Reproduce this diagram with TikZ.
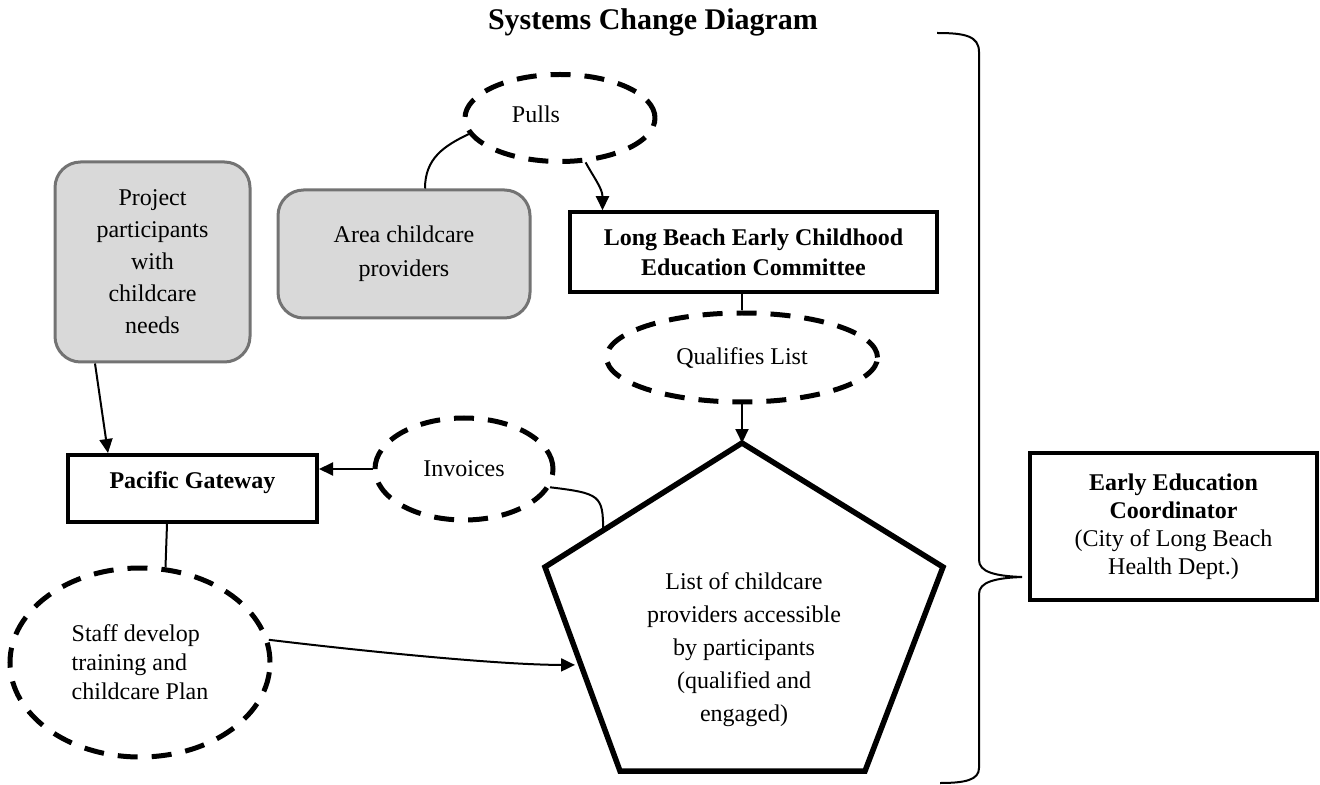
\documentclass[tikz,border=0pt]{standalone}
\usepackage{fontspec}
\setmainfont{Liberation Serif}
\usetikzlibrary{shapes,arrows.meta,positioning,calc}
\tikzstyle{greybox} = [draw=black!55,line width=1.5pt,fill=black!15,rectangle,rounded corners=.45cm,align=center,inner sep=0]
\tikzstyle{box} = [draw,line width=2pt,rectangle,align=center,inner sep=0,font=\fontsize{12}{15}\selectfont\bfseries]
\tikzstyle{bubble} = [draw,line width=2.5pt,ellipse,dash pattern=on 10pt off 7pt,inner sep=0,align=center]
\tikzstyle{link} = [-,line width=1pt]
\tikzstyle{arrow} = [link,-{Triangle[length=7pt,width=6.5pt]}]

\begin{document}
\begin{tikzpicture}[x=0.5pt,y=-0.5pt,font=\fontsize{12}{19}\selectfont]
      \useasboundingbox (0,0) rectangle (1320,785);
      \node[font=\fontsize{15}{18}\selectfont\bfseries] (title) at (653,22) {Systems Change Diagram};
      % who needs care, who gives it
      \node[greybox,minimum width=97.5pt,minimum height=100pt,font=\fontsize{12}{16}\selectfont] (proj) at (152.5,262) {Project\\participants\\with\\childcare\\needs};
      \node[greybox,minimum width=126pt,minimum height=64pt,font=\fontsize{12}{17}\selectfont] (area) at (404,254) {Area childcare\\providers};
      \node[bubble,minimum width=95pt,minimum height=43.5pt,label={[xshift=-12pt,yshift=2pt]center:Pulls}] (pulls) at (560,118) {};
      \node[box,minimum width=183.5pt,minimum height=40pt,line width=1.75pt] (lbc) at (753.5,252) {Long Beach Early Childhood\\Education Committee};
      \node[bubble,minimum width=135.5pt,minimum height=44.5pt] (qual) at (742,357.5) {Qualifies List};
      \node[bubble,minimum width=89pt,minimum height=51pt] (inv) at (464,469) {Invoices};
      \node[box,minimum width=124.5pt,minimum height=33.5pt,text depth=8pt] (pg) at (192.5,488.5) {Pacific Gateway};
      \node[bubble,minimum width=130pt,minimum height=94.5pt,align=left,font=\fontsize{12}{14.5}\selectfont] (staff) at (140,662.5) {Staff develop\\training and\\childcare Plan};
      \node[box,minimum width=143.5pt,minimum height=73.5pt,font=\fontsize{12}{14}\selectfont] (eec) at (1173.5,526.5) {\textbf{Early Education}\\\textbf{Coordinator}\\(City of Long Beach\\Health Dept.)};
      % the list
      \coordinate (ptop) at (742,443);
      \coordinate (pl) at (545,567);
      \coordinate (pbl) at (620,771);
      \coordinate (pbr) at (865,771);
      \coordinate (pr) at (943,567);
      \draw[line width=2.75pt,line join=miter] (ptop) -- (pl) -- (pbl) -- (pbr) -- (pr) -- cycle;
      \node[align=center,font=\fontsize{12}{16.5}\selectfont] (list) at (744,650) {List of childcare\\providers accessible\\by participants\\(qualified and\\engaged)};
      \coordinate (pinv) at ($(ptop)!0.705!(pl)$);
      \coordinate (pst) at ($(pl)!0.48!(pbl)$);
      % links
      \draw[link] ([xshift=10.5pt]area.north) .. controls +(0,-30) and +(-25,12) .. (pulls.190);
      \draw[arrow] (pulls.-60) .. controls +(8,15) and +(0,-22) .. ([xshift=-75.5pt]lbc.north);
      \draw[link] (lbc.south -| qual.north) -- (qual.north);
      \draw[arrow] (qual.south) -- (ptop);
      \draw[arrow] (inv.west) -- (inv.west -| pg.east);
      \draw[link] (inv.-12) .. controls +(50,6) and +(0,-35) .. (pinv);
      \draw[arrow] ([xshift=-28.75pt]proj.south) -- ([xshift=-42.25pt]pg.north);
      \draw[link] ([xshift=-12.75pt]pg.south) -- (staff.75);
      \draw[arrow,shorten >=3pt] (staff.10) .. controls +(100,12) and +(-80,0) .. (pst);
      % brace
      \coordinate (tip) at (1022,577);
      \draw[line width=1pt] (937,33) .. controls (965,33) and (979,36) .. (979,52) -- (979,560) .. controls (979,572) and (995,576) .. (tip) .. controls (995,578) and (979,582) .. (979,594) -- (979,768) .. controls (979,780) and (965,783) .. (940,783);
    \end{tikzpicture}
\end{document}
